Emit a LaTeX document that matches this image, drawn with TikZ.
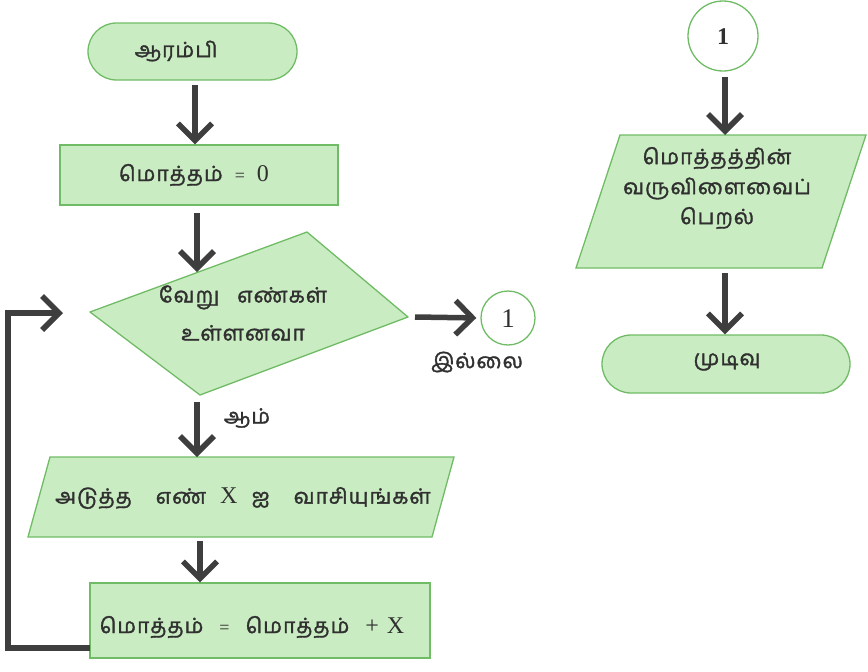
\documentclass[tikz,border=0pt]{standalone}
\usepackage{fontspec}
\setmainfont{Liberation Serif}
\newfontfamily\tamil[Script=Tamil,FakeBold=1.6,LetterSpace=5]{Hind Madurai}
\usetikzlibrary{arrows.meta,shapes.misc}
\definecolor{boxfill}{RGB}{202,236,194}
\definecolor{boxline}{RGB}{112,188,102}
\definecolor{ink}{RGB}{62,62,62}
\definecolor{txt}{RGB}{48,48,48}

\begin{document}
\begin{tikzpicture}[x=1pt,y=-1pt,
  box/.style={fill=boxfill,draw=boxline,line width=1.3pt,inner sep=0pt},
  term/.style={box,rounded rectangle},
  flow/.style={draw=ink,line width=5.5pt,-{Straight Barb[length=17pt,width=34pt]}},
  lbl/.style={text=txt,font=\tamil\fontsize{21}{30}\selectfont,inner sep=0pt,align=center},
  latin/.style={text=txt,inner sep=0pt},
  conn/.style={circle,draw=boxline,fill=white,line width=1.3pt,inner sep=0pt}
]
\newcommand\eqsign{{\rmfamily\fontsize{18}{20}\selectfont=}}
\newcommand\rmbig[1]{{\rmfamily\mdseries\fontsize{24}{26}\selectfont #1}}
\useasboundingbox (0,0) rectangle (868,672);

% ---- left column ----
\node[term,minimum width=209pt,minimum height=57pt] (start) at (192.5,51.5) {};
\node[lbl] (startT) at (176,51) {ஆரம்பி};

\node[box,minimum width=278pt,minimum height=60pt] (init) at (199,175) {};
\node[lbl] (initT) at (194,175) {மொத்தம்\hspace{12pt}\eqsign\hspace{12pt}\rmbig{0}};

% decision: skewed rhombus
\coordinate (dL) at (90,312);
\coordinate (dT) at (307,232);
\coordinate (dR) at (408,317);
\coordinate (dB) at (200,395);
\fill[boxfill] (dL) -- (dT) -- (dR) -- (dB) -- cycle;
\draw[boxline,line width=1.3pt,line join=round] (dL) -- (dT) -- (dR) -- (dB) -- cycle;
\node[lbl] (decT) at (243,313) {வேறு\hspace{18pt}எண்கள்\\[8pt]உள்ளனவா};

% read step: parallelogram
\coordinate (rTL) at (50,457);
\coordinate (rTR) at (454,457);
\coordinate (rBR) at (432,537);
\coordinate (rBL) at (28,537);
\filldraw[fill=boxfill,draw=boxline,line width=1.3pt] (rTL) -- (rTR) -- (rBR) -- (rBL) -- cycle;
\node[lbl] (readT) at (243,498) {அடுத்த\hspace{24pt}எண்\hspace{14pt}\rmbig{X}\hspace{14pt}ஐ\hspace{24pt}வாசியுங்கள்};

\node[box,minimum width=340pt,minimum height=75pt] (add) at (260,620.5) {};
\node[lbl] (addT) at (252,627) {மொத்தம்\hspace{16pt}\eqsign\hspace{16pt}மொத்தம்\hspace{16pt}\rmbig{+\hspace{8pt}X}};

% connector to the second column
\node[conn,minimum size=54pt] (c1) at (508,318) {};
\node[latin,font=\rmfamily\fontsize{27}{30}\selectfont] (c1T) at (508,319) {1};
\node[lbl] (no) at (477,362) {இல்லை};
\node[lbl] (yes) at (247,418) {ஆம்};

% ---- right column ----
\node[conn,minimum size=70pt] (c2) at (723,36) {};
\node[latin,font=\rmfamily\bfseries\fontsize{24}{28}\selectfont] (c2T) at (723,37) {1};

\coordinate (oTL) at (620,135);
\coordinate (oTR) at (866,135);
\coordinate (oBR) at (822,268);
\coordinate (oBL) at (576,268);
\filldraw[fill=boxfill,draw=boxline,line width=1.3pt] (oTL) -- (oTR) -- (oBR) -- (oBL) -- cycle;
\node[lbl] (outT) at (717,188) {மொத்தத்தின்\\வருவிளைவைப்\\பெறல்};

\node[term,minimum width=248pt,minimum height=58pt] (stop) at (726,364) {};
\node[lbl] (stopT) at (727,362) {முடிவு};

% ---- connectors ----
\coordinate (a1) at (195,85);
\draw[flow] (a1) -- (a1 |- init.north);
\coordinate (a2) at (197,213);
\coordinate (a2e) at (197,272);
\draw[flow] (a2) -- (a2e);
\coordinate (a3) at (197,402);
\draw[flow] (a3) -- (a3 |- rTL);
\coordinate (a4) at (200,541);
\draw[flow] (a4) -- (a4 |- add.north);
\coordinate (lp) at (90,648);
\coordinate (lpc) at (8,313);
\coordinate (lpe) at (63,313);
\draw[flow,line join=miter] (lp) -| (lpc) -- (lpe);
\coordinate (a5) at (415,317);
\draw[flow,shorten >=4pt] (a5) -- (c1.west);
\coordinate (a6) at (725,77);
\draw[flow] (a6) -- (a6 |- oTL);
\coordinate (a7) at (725,273);
\draw[flow] (a7) -- (a7 |- stop.north);
\end{tikzpicture}
\end{document}
